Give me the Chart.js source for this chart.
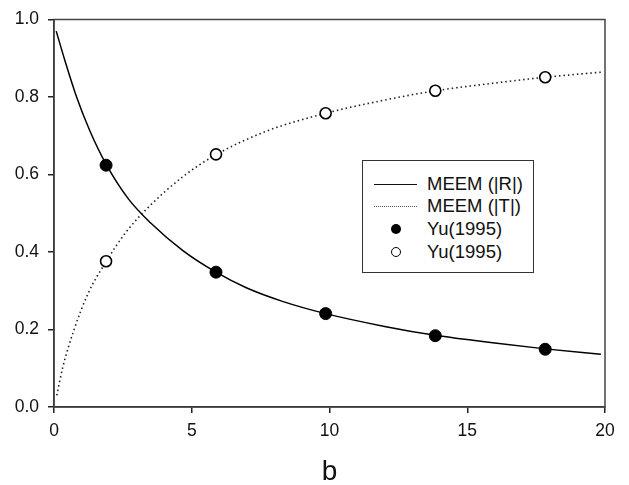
<!DOCTYPE html>
<html lang="en">
<head>
    <meta charset="UTF-8">
    <title>MEEM vs Yu(1995)</title>
    <script src="https://cdn.jsdelivr.net/npm/chart.js"></script>
    <style>
        body { margin: 0; background: #fff; font-family: "Liberation Sans", Arial, sans-serif; }
        .wrap { position: relative; width: 629px; height: 485px; }
        .legend {
            position: absolute; left: 362px; top: 160px; width: 170px; height: 111px;
            border: 1px solid #333; background: #fff; font-size: 18.5px; color: #111;
        }
        .row { position: absolute; left: 0; height: 22px; line-height: 22px; width: 100%; }
        .row span { position: absolute; left: 64px; }
        .sample { position: absolute; left: 11px; width: 43px; top: 11px; }
        .solid { border-top: 1.3px solid #111; }
        .dotted { border-top: 1.3px dotted #555; }
        .dot { position: absolute; left: 28px; top: 6px; width: 10px; height: 10px; border-radius: 50%; box-sizing: border-box; }
        .filled { background: #000; }
        .open { border: 1.5px solid #000; background: #fff; }
    </style>
</head>
<body>
<div class="wrap">
    <canvas id="chart" width="629" height="485"></canvas>
    <div class="legend">
        <div class="row" style="top:12px"><div class="sample solid"></div><span>MEEM (|R|)</span></div>
        <div class="row" style="top:34px"><div class="sample dotted"></div><span>MEEM (|T|)</span></div>
        <div class="row" style="top:57px"><div class="dot filled"></div><span>Yu(1995)</span></div>
        <div class="row" style="top:80px"><div class="dot open"></div><span>Yu(1995)</span></div>
    </div>
</div>
<script>
    // MEEM curves
    const rX = [0.08, 0.4, 0.82, 1.3, 1.91, 2.7, 3.49, 4.69, 5.88, 7.0, 8.32, 9.86, 12.0, 13.84, 16.0, 17.83, 19.85];
    const rY = [0.97, 0.893, 0.80, 0.713, 0.624, 0.537, 0.476, 0.403, 0.348, 0.307, 0.272, 0.241, 0.208, 0.185, 0.165, 0.150, 0.136];
    const tX = [0.1, 0.31, 0.73, 1.25, 1.89, 2.6, 3.42, 4.69, 5.88, 7.72, 9.86, 12.0, 13.84, 16.0, 17.83, 19.85];
    const tY = [0.03, 0.10, 0.20, 0.295, 0.375, 0.45, 0.515, 0.595, 0.651, 0.712, 0.758, 0.792, 0.816, 0.836, 0.851, 0.864];

    // Yu (1995) points
    const yuX = [1.89, 5.88, 9.86, 13.84, 17.83];
    const yuR = [0.624, 0.348, 0.241, 0.184, 0.149];
    const yuT = [0.376, 0.652, 0.758, 0.816, 0.851];

    const xy = (xs, ys) => xs.map((x, i) => ({ x: x, y: ys[i] }));

    const frame = {
        id: 'frame',
        afterDraw(chart) {
            const a = chart.chartArea, c = chart.ctx;
            c.save();
            c.strokeStyle = '#444';
            c.lineWidth = 1.5;
            c.strokeRect(a.left, a.top, a.right - a.left, a.bottom - a.top);
            c.restore();
        }
    };

    new Chart(document.getElementById('chart'), {
        type: 'scatter',
        data: {
            datasets: [
                { label: 'Yu R', data: xy(yuX, yuR), pointRadius: 6, pointBackgroundColor: '#000', pointBorderColor: '#000', order: 1 },
                { label: 'Yu T', data: xy(yuX, yuT), pointRadius: 5.5, pointBackgroundColor: '#fff', pointBorderColor: '#000', pointBorderWidth: 1.6, order: 1 },
                { label: 'MEEM R', data: xy(rX, rY), showLine: true, borderColor: '#000', borderWidth: 1.5, pointRadius: 0, cubicInterpolationMode: 'monotone', order: 2 },
                { label: 'MEEM T', data: xy(tX, tY), showLine: true, borderColor: '#222', borderWidth: 1.6, borderDash: [1.5, 3], pointRadius: 0, cubicInterpolationMode: 'monotone', order: 2 }
            ]
        },
        options: {
            responsive: false,
            animation: false,
            layout: { padding: { top: 11, right: 24, left: 0, bottom: 0 } },
            plugins: { legend: { display: false }, tooltip: { enabled: false } },
            scales: {
                x: {
                    min: 0, max: 20,
                    ticks: { stepSize: 5, color: '#111', font: { size: 17.5, family: 'Liberation Sans' }, padding: 8 },
                    grid: { drawOnChartArea: false, color: '#222', tickLength: 6, lineWidth: 1.5 },
                    border: { color: '#222', width: 1.5 },
                    title: { display: true, text: 'b', color: '#111', font: { size: 28, family: 'Liberation Sans', lineHeight: 0.9 }, padding: { top: 0, bottom: 0 } },
                    afterFit(s) { s.height = 78; }
                },
                y: {
                    min: 0, max: 1,
                    ticks: { stepSize: 0.2, color: '#111', font: { size: 17.5, family: 'Liberation Sans' }, padding: 9,
                             callback: v => v.toFixed(1) },
                    grid: { drawOnChartArea: false, color: '#222', tickLength: 6, lineWidth: 1.5 },
                    border: { color: '#222', width: 1.5 },
                    afterFit(s) { s.width = 54; }
                }
            }
        },
        plugins: [frame]
    });
</script>
</body>
</html>
